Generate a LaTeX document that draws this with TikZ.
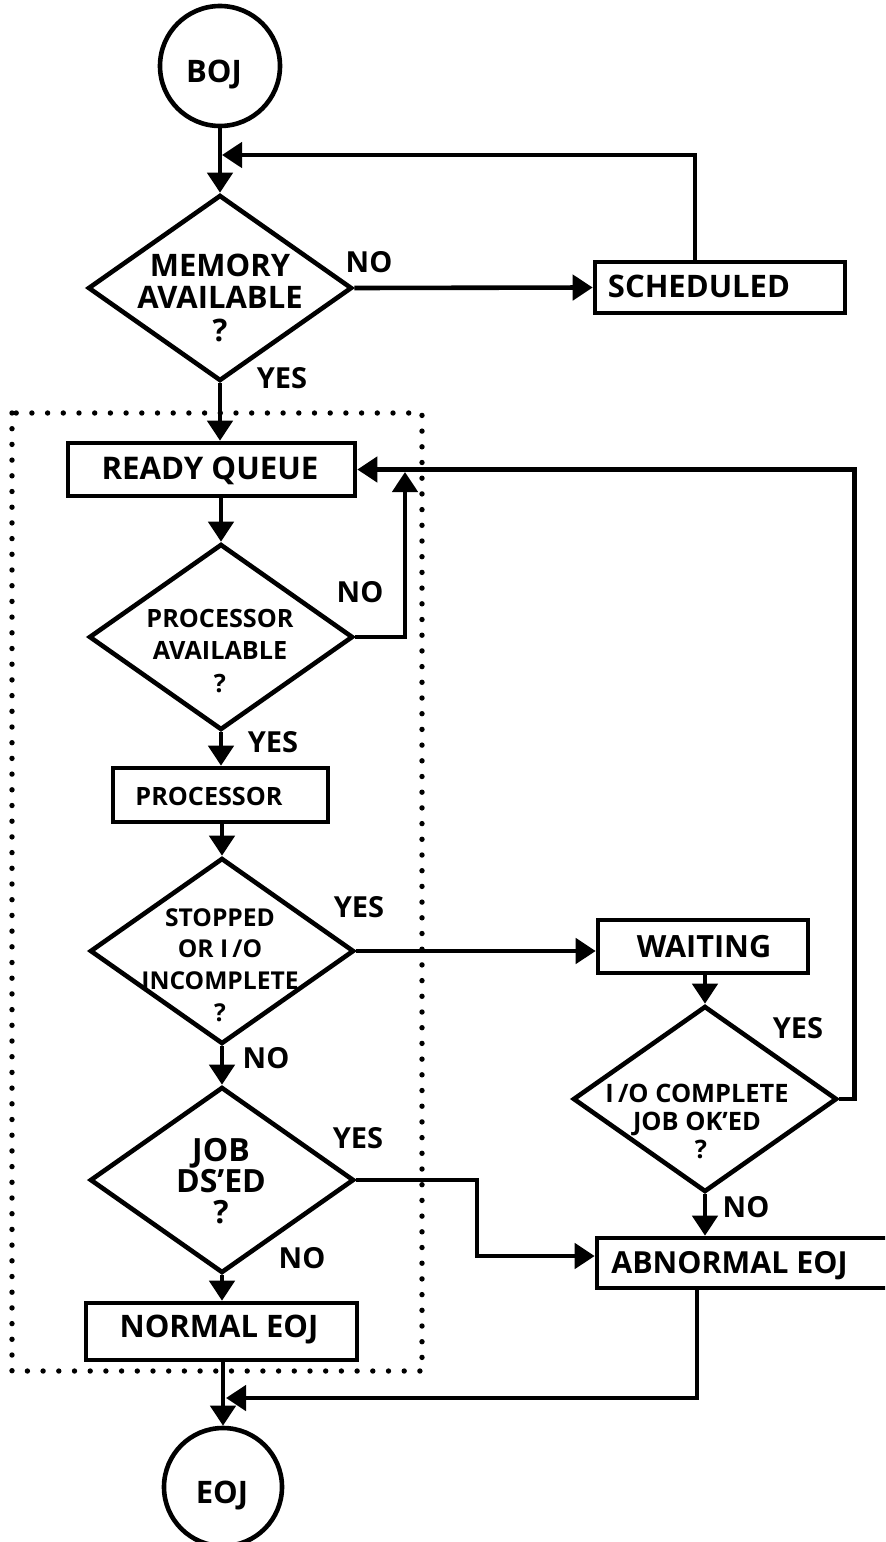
\documentclass[tikz,border=0pt]{standalone}
\usepackage{fontspec}
\setmainfont{Open Sans}
\usetikzlibrary{arrows.meta,shapes.geometric,calc}

% font size / baseline skip helper
\newcommand\fsz[2]{\fontsize{#1}{#2}\selectfont\bfseries}

\begin{document}
\begin{tikzpicture}[x=0.5pt,y=-0.5pt,line width=2.3pt,
  flow/.style={-{Triangle[length=10pt,width=12.5pt]}},
  term/.style={circle,draw,inner sep=0pt},
  stepbox/.style={rectangle,draw,inner sep=0pt},
  decision/.style={diamond,draw,inner sep=0pt,minimum width=132pt,minimum height=93pt},
  txt/.style={inner sep=0pt,align=center},
  lbl/.style={inner sep=0pt,anchor=base,font=\fsz{14.5}{16}}]

\useasboundingbox (0,0) rectangle (885,1542);
\clip (0,0) rectangle (885,1542);

% ---- terminals ----
\node[term,minimum size=60pt] (boj) at (220,66) {};
\node[txt,anchor=base,font=\fsz{15.5}{16}] (bojT) at (214,82) {BOJ};
\node[term,minimum size=59pt] (eoj) at (223,1487) {};
\node[txt,anchor=base,font=\fsz{15.5}{16}] (eojT) at (222,1503) {EOJ};

% ---- decisions ----
\node[decision] (mem) at (220,288) {};
\node[txt,font=\fsz{15.5}{16.25}] (memT) at (220,297.5) {MEMORY\\AVAILABLE\\?};

\node[decision] (pa) at (221,637) {};
\node[txt,font=\fsz{12.6}{16.25}] (paT) at (220,651) {PROCESSOR\\AVAILABLE\\?};

\node[decision] (st) at (222,951) {};
\node[txt,font=\fsz{12.3}{15.8}] (stT) at (220,965) {STOPPED\\OR I\,/O\\INCOMPLETE\\?};

\node[decision] (io) at (705,1099) {};
\node[txt,font=\fsz{12.7}{14}] (ioT) at (697,1121) {I\,/O COMPLETE\\JOB OK’ED\\\hspace*{4pt}?};

\node[decision] (jd) at (222,1180) {};
\node[txt,font=\fsz{16}{15.5}] (jdT) at (221,1181) {JOB\\DS’ED\\?};

% ---- process boxes ----
\node[stepbox,minimum width=125pt,minimum height=25.5pt] (sched) at (720,287.5) {};
\node[txt,anchor=base,font=\fsz{15.5}{16}] (schedT) at (699,297) {SCHEDULED};

\node[stepbox,minimum width=143.5pt,minimum height=26.5pt] (rq) at (211.5,469.5) {};
\node[txt,anchor=base,font=\fsz{15.6}{16}] (rqT) at (210,479) {READY QUEUE};

\node[stepbox,minimum width=107.5pt,minimum height=27pt] (proc) at (220.5,795) {};
\node[txt,anchor=base,font=\fsz{12.6}{16}] (procT) at (209,805) {PROCESSOR};

\node[stepbox,minimum width=105pt,minimum height=26.5pt] (wait) at (703,946.5) {};
\node[txt,anchor=base,font=\fsz{15.3}{16}] (waitT) at (704,957) {WAITING};

\node[stepbox,minimum width=151.5pt,minimum height=25pt] (ab) at (748.5,1263) {};
\node[txt,anchor=base west,font=\fsz{15.2}{16}] (abT) at (609,1273) {ABNORMAL EOJ};

\node[stepbox,minimum width=135.5pt,minimum height=28.5pt] (ne) at (221.5,1331.5) {};
\node[txt,anchor=base,font=\fsz{15.5}{16}] (neT) at (219,1337) {NORMAL EOJ};

% ---- dotted boundary ----
\draw[line width=2.7pt,line cap=round,dash pattern=on 0pt off 7.85pt] (12,413) rectangle (422,1371);

% ---- junction points ----
\coordinate (j1) at (222,155);
\coordinate (j2) at (405,472);
\coordinate (j3) at (226,1398);

% ---- connectors ----
\draw[flow] (boj.south) -- (mem.north);
\draw[flow] (mem.east) -- (sched.west);
\draw[flow] ([xshift=-12.5pt]sched.north) |- (j1);
\draw[flow] (mem.south) -- (mem.south |- rq.north);
\draw[flow] (pa.north |- rq.south) -- (pa.north);
\draw[flow] (pa.east) -| (j2);
\draw[flow] (pa.south) -- (pa.south |- proc.north);
\draw[flow] (st.north |- proc.south) -- (st.north);
\draw[flow] (st.east) -- (st.east -| wait.west);
\draw[flow] (io.north |- wait.south) -- (io.north);
\draw[flow] (io.east) -- ++(15,0) |- (rq.east);
\draw[flow] (st.south) -- (jd.north);
\draw[flow] (jd.east) -- (477,1180) |- ([yshift=3.5pt]ab.west);
\draw[flow] (io.south) -- (io.south |- ab.north);
\draw[flow] ([xshift=-25.75pt]ab.south) |- (j3);
\draw[flow] (jd.south) -- (jd.south |- ne.north);
\draw[flow] (eoj.north |- ne.south) -- (eoj.north);

% ---- branch labels ----
\node[lbl] (l1) at (369,272) {NO};
\node[lbl] (l2) at (282,388) {YES};
\node[lbl] (l3) at (360,602) {NO};
\node[lbl] (l4) at (273,752) {YES};
\node[lbl] (l5) at (359,917) {YES};
\node[lbl] (l6) at (266,1068) {NO};
\node[lbl] (l7) at (358,1148) {YES};
\node[lbl] (l8) at (302,1268) {NO};
\node[lbl] (l9) at (798,1038) {YES};
\node[lbl] (l10) at (746,1217) {NO};
\end{tikzpicture}
\end{document}
